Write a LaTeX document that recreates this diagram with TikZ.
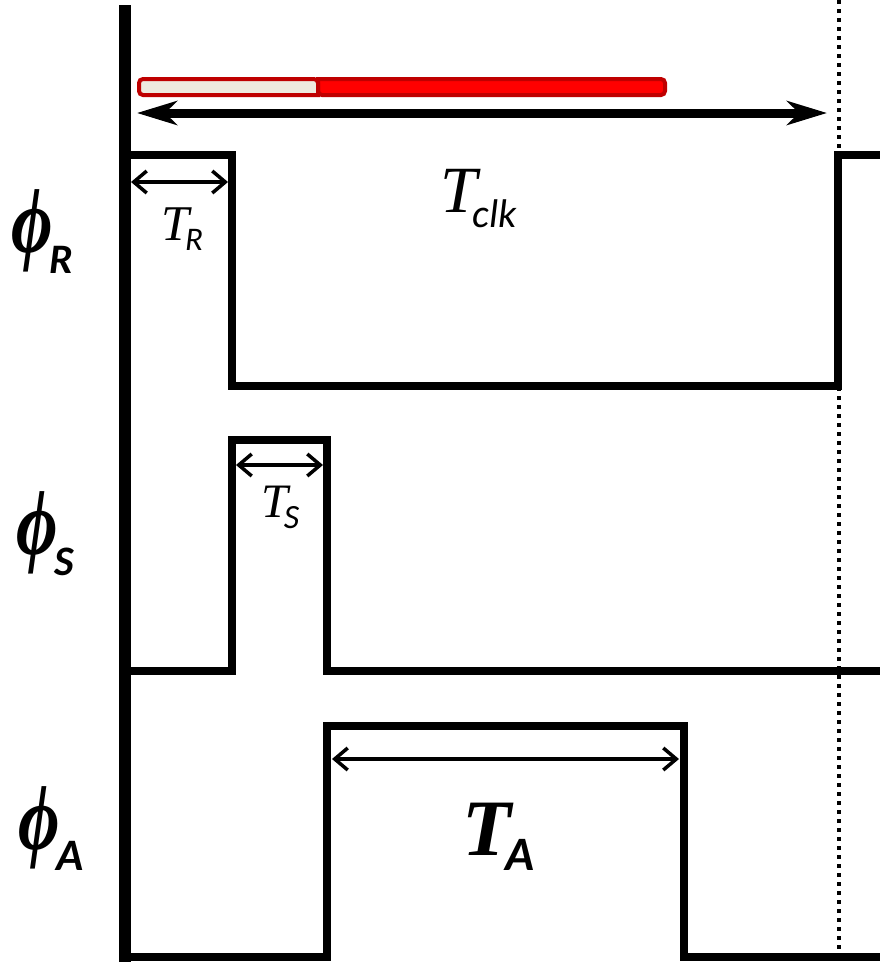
\documentclass[tikz,border=0pt]{standalone}
\usepackage{fontspec}
\newfontfamily\calib{Carlito}
\newfontfamily\tms{Liberation Serif}
\usetikzlibrary{positioning, arrows.meta}

\newcommand{\phisym}{{\fontsize{92}{92}\tms\bfseries\itshape\scalebox{0.78}[1]{ϕ}}}

\begin{document}
\begin{tikzpicture}[x=1pt, y=-1pt,
  wave/.style={line width=8pt, miter limit=10, line join=miter},
  axis/.style={line width=12pt},
  tick/.style={line width=4pt, dash pattern=on 4pt off 5pt},
  span/.style={{Straight Barb[length=13pt, width=22pt, line width=3.5pt]}-{Straight Barb[length=13pt, width=22pt, line width=3.5pt]}, line width=3.5pt},
  bigspan/.style={{Stealth[length=40pt, width=24pt, inset=12pt]}-{Stealth[length=40pt, width=24pt, inset=12pt]}, line width=9pt},
  sig/.style={anchor=base west, inner sep=0pt, font=\calib\bfseries\itshape},
  tlbl/.style={anchor=base west, inner sep=0pt},
]
\useasboundingbox (0,0) rectangle (880,962);

% === Period marker and axis ===
\draw[tick] (839,0) -- (839,962);
\draw[axis] (125,5) -- (125,962);

% === Progress bar ===
\draw[line width=4pt, draw=red!75!black, fill=red, rounded corners=4pt]
  (318,79) -- (665,79) -- (665,95) -- (318,95) [sharp corners] -- cycle;
\draw[line width=4pt, draw=red!75!black, fill={rgb,255:red,238;green,234;blue,222}, rounded corners=4pt]
  (318,95) -- (139,95) -- (139,79) -- (318,79) [sharp corners] -- cycle;

% === Clock period ===
\coordinate (clkL) at (137,113);
\coordinate (clkR) at (827,113);
\draw[bigspan] (clkL) -- (clkR);
\node[tlbl] (tclk) at (440,212)
  {\fontsize{66}{66}\tms\itshape T\kern-4pt\raisebox{-15pt}{\fontsize{40}{40}\calib\itshape clk}};

% === Waveforms ===
\draw[wave] (125,155) -- (232,155) -- (232,386) -- (838,386) -- (838,155) -- (884,155);
\draw[wave] (125,670.5) -- (232,670.5) -- (232,440) -- (327,440) -- (327,670.5) -- (884,670.5);
\draw[wave] (125,957) -- (327,957) -- (327,726) -- (683.5,726) -- (683.5,957) -- (884,957);

% === Signal names ===
\node[sig] (phiR) at (11,252) {\phisym\kern-3pt\raisebox{-21pt}{\fontsize{42}{42}\selectfont R}};
\node[sig] (phiS) at (16,554) {\phisym\kern-3pt\raisebox{-21pt}{\fontsize{42}{42}\selectfont S}};
\node[sig] (phiA) at (18,849) {\phisym\kern-3pt\raisebox{-21pt}{\fontsize{45}{45}\selectfont A}};

% === Pulse widths ===
\coordinate (rL) at (131,182);
\coordinate (rR) at (228,182);
\draw[span] (rL) -- (rR);
\node[tlbl] (tr) at (161,240)
  {\fontsize{50}{50}\tms\itshape T\kern-4pt\raisebox{-10pt}{\fontsize{33}{33}\calib\itshape R}};

\coordinate (sL) at (236,465);
\coordinate (sR) at (323,465);
\draw[span] (sL) -- (sR);
\node[tlbl] (ts) at (261,517)
  {\fontsize{48}{48}\tms\itshape T\kern-4pt\raisebox{-11pt}{\fontsize{34}{34}\calib\itshape S}};

\coordinate (aL) at (332,759);
\coordinate (aR) at (679,759);
\draw[span] (aL) -- (aR);
\node[tlbl] (ta) at (462,855)
  {\fontsize{80}{80}\tms\bfseries\itshape T\kern-6pt\raisebox{-15pt}{\fontsize{48}{48}\calib\bfseries\itshape A}};

\end{tikzpicture}
\end{document}
